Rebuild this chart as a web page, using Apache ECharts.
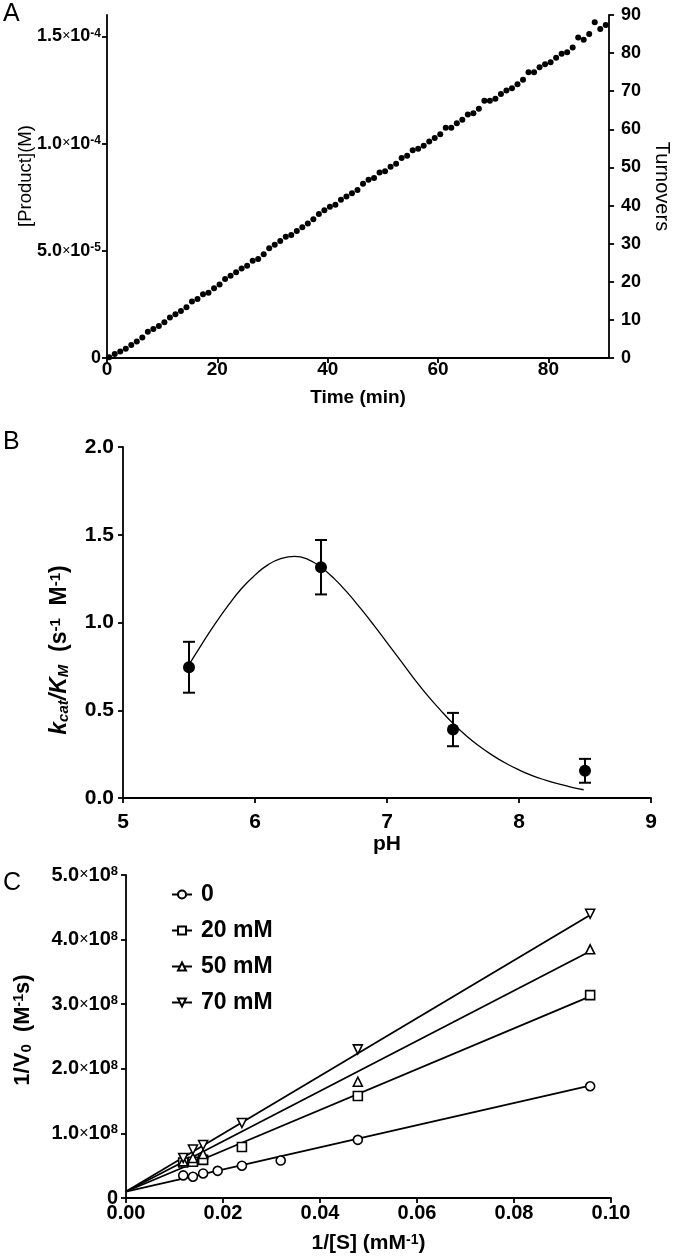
<!DOCTYPE html>
<html><head><meta charset="utf-8">
<script src="https://cdn.jsdelivr.net/npm/echarts@6/dist/echarts.min.js"></script>
<style>html,body{margin:0;padding:0;background:#fff}#c{width:680px;height:1260px}</style>
</head><body><div id="c"></div>
<script>
// ---------- Panel A: product / turnovers vs time ----------
const sampleStartMin = 0.4;
const sampleStepMin = 1;
const turnovers = [
  0.2, 1.05, 1.7, 2.4, 3.4, 4.3, 5.4, 6.9, 7.6, 8.4,
  9.4, 10.6, 11.5, 12.3, 13.3, 14.8, 15.5, 16.7, 17.1, 18.3,
  19.3, 20.7, 21.6, 22.5, 23.5, 24.2, 25.5, 26.0, 27.2, 28.8,
  29.7, 30.7, 31.8, 32.3, 33.3, 34.3, 35.3, 36.4, 37.8, 38.8,
  39.7, 40.2, 41.5, 42.4, 43.2, 44.1, 45.7, 46.8, 47.2, 48.7,
  49.0, 50.2, 51.0, 52.5, 53.1, 54.5, 54.9, 55.7, 56.8, 57.7,
  58.7, 60.4, 60.4, 61.6, 62.5, 63.9, 64.2, 65.4, 67.5, 67.5,
  68.0, 69.3, 70.2, 70.8, 71.8, 73.0, 75.0, 75.0, 76.3, 77.1,
  77.6, 78.8, 79.8, 80.2, 81.5, 84.1, 83.5, 85.0, 88.1, 86.3, 87.4
];
const aTimeTicks = [0, 20, 40, 60, 80];
const aProductTicks = [0, 5e-5, 1e-4, 1.5e-4];

// ---------- Panel B: kcat/KM vs pH ----------
const phValues = [5.5, 6.5, 7.5, 8.5];
const kcatKm = [0.745, 1.315, 0.39, 0.155];
const kcatKmErr = [0.145, 0.155, 0.095, 0.068];
const fitPH = [5.5, 5.6, 5.7, 5.8, 5.9, 6.0, 6.1, 6.2, 6.3, 6.4, 6.5, 6.6, 6.7, 6.8, 6.9, 7.0,
  7.1, 7.2, 7.3, 7.4, 7.5, 7.6, 7.7, 7.8, 7.9, 8.0, 8.1, 8.2, 8.3, 8.4, 8.49];
const fitK = [0.76, 0.88, 0.995, 1.10, 1.195, 1.27, 1.33, 1.365, 1.377, 1.36, 1.315, 1.25, 1.17, 1.08, 0.985, 0.885,
  0.785, 0.685, 0.59, 0.505, 0.425, 0.355, 0.295, 0.243, 0.198, 0.16, 0.128, 0.102, 0.08, 0.061, 0.047];

// ---------- Panel C: Lineweaver-Burk (values in units of 1e8 M^-1 s) ----------
const invS = [0.0118, 0.0138, 0.0159, 0.0189, 0.0239, 0.0319, 0.0478, 0.0957];
const inv0 = [0.35, 0.33, 0.38, 0.42, 0.50, 0.58, 0.90, 1.73];
const inv20 = [0.55, 0.56, 0.59, null, 0.79, null, 1.58, 3.14];
const inv50 = [0.57, 0.62, 0.68, null, null, null, 1.80, 3.85];
const inv70 = [0.62, 0.75, 0.82, null, 1.16, null, 2.30, 4.40];
const fitX = [0, 0.0957];
const fit0 = [0.10, 1.74];
const fit20 = [0.10, 3.12];
const fit50 = [0.10, 3.82];
const fit70 = [0.10, 4.38];
const cNames = ['0', '20 mM', '50 mM', '70 mM'];
const SCALE_C = 1e8;

const FF = 'Liberation Sans, Arial, sans-serif';
const BLACK = '#000';

function sciLabel(v) {
  if (v === 0) return '{m|0}';
  const e = Math.floor(Math.log10(v) + 1e-9);
  const m = (v / Math.pow(10, e)).toFixed(1);
  return '{m|' + m + '}{x|×}{m|10}{s|' + e + '}';
}
function sciRich(size) {
  return {
    m: {fontSize: size, fontWeight: 'bold', fontFamily: FF, color: BLACK},
    x: {fontSize: Math.round(size * 0.8), fontWeight: 'normal', fontFamily: FF, color: BLACK},
    s: {fontSize: Math.round(size * 0.65), fontWeight: 'bold', fontFamily: FF, color: BLACK, verticalAlign: 'top'}
  };
}

function axisBase(extra) {
  return Object.assign({
    type: 'value',
    splitLine: {show: false},
    axisLine: {show: true, onZero: false, lineStyle: {color: BLACK, width: 1.8}},
    axisTick: {show: true, inside: false, length: 5, lineStyle: {color: BLACK, width: 1.8}},
    axisLabel: {color: BLACK, fontWeight: 'bold', fontFamily: FF, fontSize: 17},
    nameTextStyle: {color: BLACK, fontFamily: FF}
  }, extra);
}
const tick = (vals) => ({show: true, inside: false, length: 5, lineStyle: {color: BLACK, width: 1.8}, customValues: vals});

const pairs = (xs, ys, k) => xs.map((x, i) => ys[i] == null ? null : [x, ys[i] * (k || 1)]).filter(d => d);

const dataA = turnovers.map((t, i) => [sampleStartMin + i * sampleStepMin, t]);
const dataBpts = phValues.map((p, i) => [p, kcatKm[i], kcatKmErr[i]]);
const dataBfit = fitPH.map((p, i) => [p, fitK[i]]);

const emptyStyle = {color: '#fff', borderColor: BLACK, borderWidth: 1.6, opacity: 1};
const downTri = 'path://M0,0 L10,0 L5,9 Z';
const cSymbols = ['circle', 'rect', 'triangle', downTri];
const cPts = [inv0, inv20, inv50, inv70];
const cFits = [fit0, fit20, fit50, fit70];

const series = [
  {type: 'scatter', xAxisIndex: 0, yAxisIndex: 1, data: dataA, symbolSize: 6,
   itemStyle: {color: BLACK, opacity: 1}, silent: true},
  {type: 'line', xAxisIndex: 1, yAxisIndex: 2, data: dataBfit, smooth: true, symbol: 'none',
   lineStyle: {color: BLACK, width: 1.3}, silent: true},
  {type: 'custom', xAxisIndex: 1, yAxisIndex: 2, data: dataBpts, encode: {x: 0, y: 1}, silent: true,
   renderItem: function (params, api) {
     const x = api.value(0), y = api.value(1), e = api.value(2);
     const t = api.coord([x, y + e]), b = api.coord([x, y - e]);
     const hw = 6, st = {stroke: BLACK, lineWidth: 2};
     return {type: 'group', children: [
       {type: 'line', shape: {x1: t[0], y1: t[1], x2: b[0], y2: b[1]}, style: st},
       {type: 'line', shape: {x1: t[0] - hw, y1: t[1], x2: t[0] + hw, y2: t[1]}, style: st},
       {type: 'line', shape: {x1: b[0] - hw, y1: b[1], x2: b[0] + hw, y2: b[1]}, style: st}
     ]};
   }},
  {type: 'scatter', xAxisIndex: 1, yAxisIndex: 2, data: dataBpts.map(d => [d[0], d[1]]), symbolSize: 12,
   itemStyle: {color: BLACK, opacity: 1}, silent: true, z: 5}
];
cNames.forEach((nm, k) => {
  series.push({
    type: 'line', name: nm, xAxisIndex: 2, yAxisIndex: 3,
    data: pairs(fitX, cFits[k], SCALE_C), symbol: cSymbols[k], symbolSize: 9, showSymbol: false,
    itemStyle: emptyStyle, lineStyle: {color: BLACK, width: 1.8}, silent: true
  });
  series.push({
    type: 'scatter', name: nm + ' data', xAxisIndex: 2, yAxisIndex: 3,
    data: pairs(invS, cPts[k], SCALE_C), symbol: cSymbols[k], symbolSize: 9,
    itemStyle: emptyStyle, silent: true, z: 4
  });
});

const chart = echarts.init(document.getElementById('c'), null, {renderer: 'canvas'});
chart.setOption({
  animation: false,
  backgroundColor: '#fff',
  grid: [
    {left: 107, top: 15, width: 525, height: 343},
    {left: 123, top: 447, width: 528, height: 351},
    {left: 126, top: 875, width: 485, height: 323}
  ],
  xAxis: [
    axisBase({gridIndex: 0, min: 0, max: 91, interval: 20, axisTick: tick(aTimeTicks),
      axisLabel: {color: BLACK, fontWeight: 'bold', fontFamily: FF, fontSize: 19, margin: 2, customValues: aTimeTicks},
      name: 'Time (min)', nameLocation: 'middle', nameGap: 30,
      nameTextStyle: {color: BLACK, fontFamily: FF, fontWeight: 'bold', fontSize: 19}}),
    axisBase({gridIndex: 1, min: 5, max: 9, interval: 1,
      axisLabel: {color: BLACK, fontWeight: 'bold', fontFamily: FF, fontSize: 21, margin: 14},
      name: 'pH', nameLocation: 'middle', nameGap: 35,
      nameTextStyle: {color: BLACK, fontFamily: FF, fontWeight: 'bold', fontSize: 21}}),
    axisBase({gridIndex: 2, min: 0, max: 0.1, interval: 0.02,
      axisLabel: {color: BLACK, fontWeight: 'bold', fontFamily: FF, fontSize: 20, margin: 5,
        formatter: v => v.toFixed(2)},
      name: '{n|1/[S] (mM}{s|-1}{n|)}', nameLocation: 'middle', nameGap: 35,
      nameTextStyle: {rich: {
        n: {fontSize: 21, fontWeight: 'bold', fontFamily: FF, color: BLACK},
        s: {fontSize: 14, fontWeight: 'bold', fontFamily: FF, color: BLACK, verticalAlign: 'top'}}}})
  ],
  yAxis: [
    axisBase({gridIndex: 0, min: 0, max: 1.6e-4, interval: 5e-5, position: 'left',
      axisTick: tick(aProductTicks),
      axisLabel: {margin: 6, formatter: sciLabel, rich: sciRich(18), customValues: aProductTicks}}),
    axisBase({gridIndex: 0, min: 0, max: 90, interval: 10, position: 'right',
      axisLabel: {color: BLACK, fontWeight: 'bold', fontFamily: FF, fontSize: 18, margin: 12},
      name: 'Turnovers', nameLocation: 'middle', nameRotate: -90, nameGap: 31,
      nameTextStyle: {color: BLACK, fontFamily: FF, fontSize: 20}}),
    axisBase({gridIndex: 1, min: 0, max: 2, interval: 0.5,
      axisLabel: {color: BLACK, fontWeight: 'bold', fontFamily: FF, fontSize: 21, margin: 9,
        formatter: v => v.toFixed(1)}}),
    axisBase({gridIndex: 2, min: 0, max: 5e8, interval: 1e8,
      axisLabel: {margin: 8, formatter: sciLabel, rich: sciRich(20)}})
  ],
  legend: {
    data: cNames, orient: 'vertical', left: 166, top: 878, itemGap: 13,
    itemWidth: 20, itemHeight: 10, selectedMode: false,
    textStyle: {color: BLACK, fontFamily: FF, fontWeight: 'bold', fontSize: 23, padding: [0, 0, 0, 4]}
  },
  graphic: [
    {type: 'text', left: 3, top: 2, style: {text: 'A', font: '25px ' + FF, fill: BLACK}},
    {type: 'text', left: 3, top: 430, style: {text: 'B', font: '25px ' + FF, fill: BLACK}},
    {type: 'text', left: 3, top: 871, style: {text: 'C', font: '25px ' + FF, fill: BLACK}},
    {type: 'text', x: 26, y: 176, rotation: Math.PI / 2,
      style: {text: '[Product](M)', font: '18.5px ' + FF, fill: BLACK, align: 'center', verticalAlign: 'middle'}},
    {type: 'text', x: 60, y: 650, rotation: Math.PI / 2,
      style: {text: '{i|k}{is|cat}{i|/K}{is|M}{n|  (s}{s|-1}{n|  M}{s|-1}{n|)}', align: 'center', verticalAlign: 'middle',
        rich: {
          i: {fontSize: 23, fontWeight: 'bold', fontStyle: 'italic', fontFamily: FF, fill: BLACK, color: BLACK},
          is: {fontSize: 15, fontWeight: 'bold', fontStyle: 'italic', fontFamily: FF, fill: BLACK, color: BLACK, verticalAlign: 'bottom'},
          n: {fontSize: 23, fontWeight: 'bold', fontFamily: FF, fill: BLACK, color: BLACK},
          s: {fontSize: 15, fontWeight: 'bold', fontFamily: FF, fill: BLACK, color: BLACK, verticalAlign: 'top'}
        }}},
    {type: 'text', x: 23, y: 1030, rotation: Math.PI / 2,
      style: {text: '{n|1/V}{b|0}{n|  (M}{s|-1}{n|s)}', align: 'center', verticalAlign: 'middle',
        rich: {
          n: {fontSize: 22, fontWeight: 'bold', fontFamily: FF, fill: BLACK, color: BLACK},
          b: {fontSize: 15, fontWeight: 'bold', fontFamily: FF, fill: BLACK, color: BLACK, verticalAlign: 'bottom'},
          s: {fontSize: 14, fontWeight: 'bold', fontFamily: FF, fill: BLACK, color: BLACK, verticalAlign: 'top'}
        }}}
  ],
  series: series
});
</script></body></html>
